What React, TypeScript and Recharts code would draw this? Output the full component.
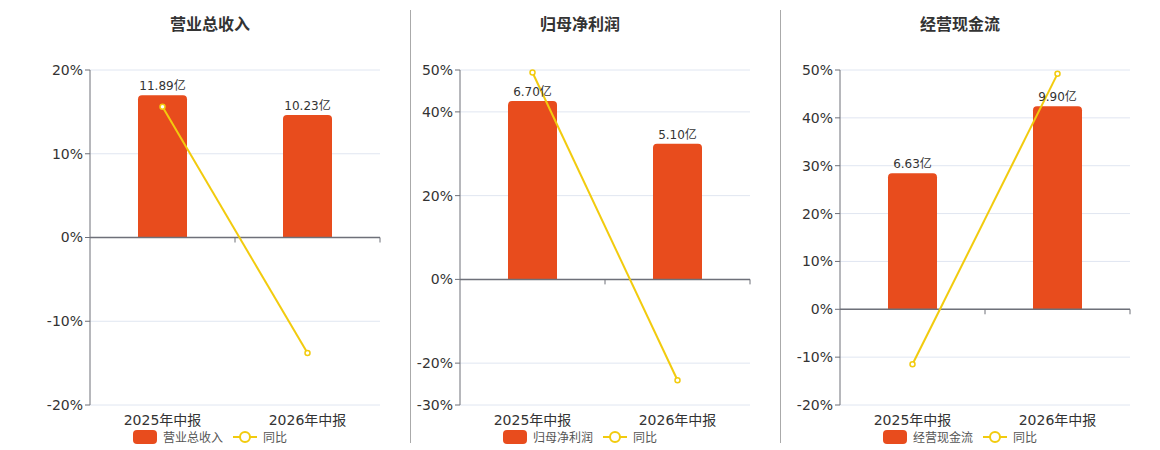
import React from "react";
import {
  ComposedChart,
  Bar,
  Line,
  XAxis,
  YAxis,
  CartesianGrid,
  ReferenceLine,
  LabelList,
} from "recharts";

const categories = ["2025年中报", "2026年中报"];

const revenue = [11.89, 10.23];
const revenueYoy = [15.6, -13.8];
const revenueTicks = [-20, -10, 0, 10, 20];

const profit = [6.7, 5.1];
const profitYoy = [49.4, -24.1];
const profitTicks = [-30, -20, 0, 20, 40, 50];

const cash = [6.63, 9.9];
const cashYoy = [-11.5, 49.2];
const cashTicks = [-20, -10, 0, 10, 20, 30, 40, 50];

const BAR = "#E84C1D";
const LINE = "#F2CB0E";
const AXIS = "#6E7079";
const FONT = "'DejaVu Sans', 'Noto Sans CJK SC', sans-serif";

interface PanelProps {
  title: string;
  amounts: number[];
  yoy: number[];
  ticks: number[];
  amountDomain: [number, number];
  left: number;
  center: number;
}

// axis line drawn at the zero level, with the small ticks hanging under it
const ZeroAxis = (props: any) => {
  const { x1, y1, x2 } = props;
  const mid = (x1 + x2) / 2;
  return (
    <g>
      <line x1={x1} y1={y1} x2={x2} y2={y1} stroke={AXIS} strokeWidth={1.5} />
      <line x1={mid} y1={y1} x2={mid} y2={y1 + 5} stroke={AXIS} strokeWidth={1} />
      <line x1={x2} y1={y1} x2={x2} y2={y1 + 5} stroke={AXIS} strokeWidth={1} />
    </g>
  );
};

const Panel = ({ title, amounts, yoy, ticks, amountDomain, left, center }: PanelProps) => {
  const data = categories.map((name, i) => ({
    name,
    amount: amounts[i],
    label: `${amounts[i].toFixed(2)}亿`,
    yoy: yoy[i],
  }));

  return (
    <>
      <div
        style={{
          position: "absolute",
          left: center - 100,
          width: 200,
          top: 11,
          textAlign: "center",
          fontSize: 16,
          fontWeight: 700,
          color: "#333",
          fontFamily: FONT,
        }}
      >
        {title}
      </div>
      <div style={{ position: "absolute", left, top: 0 }}>
        <ComposedChart
          width={400}
          height={450}
          data={data}
          margin={{ top: 70, right: 20, bottom: 15, left: 30 }}
          barCategoryGap={0}
        >
          <CartesianGrid yAxisId="pct" vertical={false} stroke="#E0E6F1" />
          <XAxis
            dataKey="name"
            axisLine={false}
            tickLine={false}
            height={30}
            tickMargin={4}
            tick={{ fill: "#333", fontSize: 14, fontFamily: FONT }}
          />
          <YAxis
            yAxisId="pct"
            width={60}
            domain={[ticks[0], ticks[ticks.length - 1]]}
            ticks={ticks}
            interval={0}
            tickFormatter={(v) => `${v}%`}
            axisLine={{ stroke: AXIS }}
            tickLine={{ stroke: AXIS }}
            tickSize={5}
            tick={{ fill: "#333", fontSize: 14, fontFamily: FONT }}
          />
          <YAxis yAxisId="amt" orientation="right" hide domain={amountDomain} />
          <ReferenceLine yAxisId="pct" y={0} shape={ZeroAxis} />
          <Bar
            yAxisId="amt"
            dataKey="amount"
            fill={BAR}
            barSize={49}
            radius={[4, 4, 0, 0]}
            isAnimationActive={false}
          >
            <LabelList
              dataKey="label"
              position="top"
              fill="#333"
              fontSize={12}
              fontFamily={FONT}
            />
          </Bar>
          <Line
            yAxisId="pct"
            dataKey="yoy"
            stroke={LINE}
            strokeWidth={2}
            dot={{ r: 2.5, fill: "#fff", stroke: LINE, strokeWidth: 1.5 }}
            isAnimationActive={false}
          />
        </ComposedChart>
      </div>
      <div
        style={{
          position: "absolute",
          left: center - 100,
          width: 200,
          top: 428,
          display: "flex",
          justifyContent: "center",
          alignItems: "center",
          fontSize: 12,
          color: "#555",
          fontFamily: FONT,
        }}
      >
        <span style={{ width: 24, height: 14, borderRadius: 4, background: BAR, marginRight: 6 }} />
        <span style={{ marginRight: 10 }}>{title}</span>
        <svg width={24} height={14} style={{ marginRight: 6 }}>
          <line x1={0} y1={7} x2={24} y2={7} stroke={LINE} strokeWidth={2} />
          <circle cx={12} cy={7} r={5} fill="#fff" stroke={LINE} strokeWidth={2} />
        </svg>
        <span>同比</span>
      </div>
    </>
  );
};

export default function App() {
  return (
    <div
      style={{
        position: "absolute",
        left: 0,
        top: 0,
        width: 1160,
        height: 450,
        background: "#fff",
        overflow: "hidden",
      }}
    >
      <Panel
        title="营业总收入"
        amounts={revenue}
        yoy={revenueYoy}
        ticks={revenueTicks}
        amountDomain={[-14, 14]}
        left={0}
        center={210}
      />
      <Panel
        title="归母净利润"
        amounts={profit}
        yoy={profitYoy}
        ticks={profitTicks}
        amountDomain={[-4.73, 7.87]}
        left={370}
        center={580}
      />
      <Panel
        title="经营现金流"
        amounts={cash}
        yoy={cashYoy}
        ticks={cashTicks}
        amountDomain={[-4.66, 11.66]}
        left={750}
        center={960}
      />
      <div style={{ position: "absolute", left: 410, top: 10, width: 1, height: 433, background: "#aaa" }} />
      <div style={{ position: "absolute", left: 780, top: 10, width: 1, height: 433, background: "#aaa" }} />
    </div>
  );
}
